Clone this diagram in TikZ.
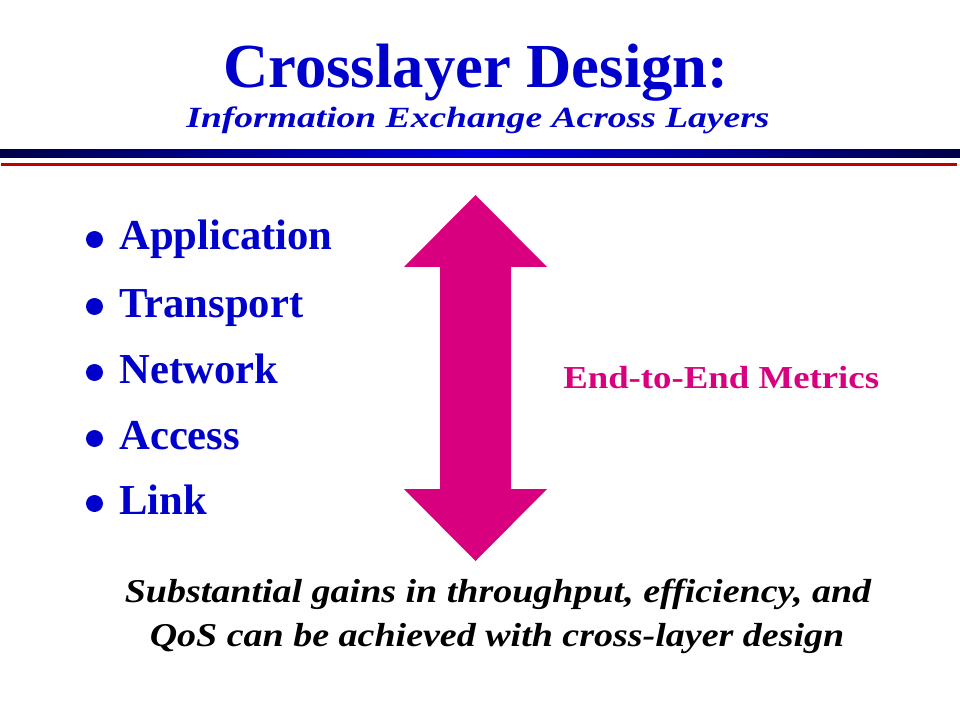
\documentclass[tikz,border=0pt]{standalone}
\usepackage{fontspec}
\setmainfont{Liberation Serif}
\newfontfamily\subfont[FakeStretch=1.28]{Liberation Serif}
\newfontfamily\metricfont[FakeStretch=1.15]{Liberation Serif}
\newfontfamily\notefont[FakeStretch=1.14]{Liberation Serif}

\definecolor{slideblue}{RGB}{0,0,204}
\definecolor{barnavy}{RGB}{0,0,72}
\definecolor{barblue}{RGB}{0,0,222}
\definecolor{rulered}{RGB}{190,0,0}
\definecolor{metricpink}{RGB}{217,0,128}

\begin{document}
\begin{tikzpicture}[x=0.75pt, y=-0.75pt,
  label text/.style={inner sep=0pt},
  layer/.style={label text, anchor=base west, text=slideblue,
    font=\fontsize{32}{38}\selectfont\bfseries},
  layerdot/.style={circle, fill=slideblue, inner sep=0pt, minimum size=12.75pt},
  note/.style={label text, anchor=base,
    font=\notefont\fontsize{25}{30}\selectfont\bfseries\itshape}]
 \fill [white] (0,0) rectangle (960,720);
 \useasboundingbox (0,0) rectangle (960,720);
 % heading
 \node [label text, anchor=base, text=slideblue,
   font=\fontsize{47}{56}\selectfont\bfseries] (title) at (476,88) {Crosslayer Design:};
 \node [label text, anchor=base, text=slideblue,
   font=\subfont\fontsize{22}{26}\selectfont\bfseries\itshape] (subtitle) at (478,128) {Information Exchange Across Layers};
 \shade [left color=barnavy, right color=barnavy, middle color=barblue] (0,150) rectangle (960,158);
 \fill [rulered] (1,163) rectangle (957,166);
 % layers
 \node [layerdot] (appdot) at (94.5,239.5) {};
 \node [layer] (app) at (119,250) {Application};
 \node [layerdot] (transdot) at (94.5,306.5) {};
 \node [layer] (trans) at (119,317) {Transport};
 \node [layerdot] (netdot) at (94.5,372.5) {};
 \node [layer] (net) at (119,383) {Network};
 \node [layerdot] (accdot) at (94.5,438.5) {};
 \node [layer] (acc) at (119,449) {Access};
 \node [layerdot] (linkdot) at (94.5,503.5) {};
 \node [layer] (link) at (119,514) {Link};
 % double arrow
 \fill [metricpink] (475.5,195) -- (547,267) -- (511,267) -- (511,489) -- (547,489)
   -- (475.5,561) -- (404,489) -- (440,489) -- (440,267) -- (404,267) -- cycle;
 \node [label text, anchor=base west, text=metricpink,
   font=\metricfont\fontsize{24}{28}\selectfont\bfseries] (metrics) at (563,388) {End-to-End Metrics};
 % conclusion
 \node [note] (gains) at (498,602) {Substantial gains in throughput, efficiency, and};
 \node [note] (qos) at (497,646) {QoS can be achieved with cross-layer design};
\end{tikzpicture}
\end{document}
